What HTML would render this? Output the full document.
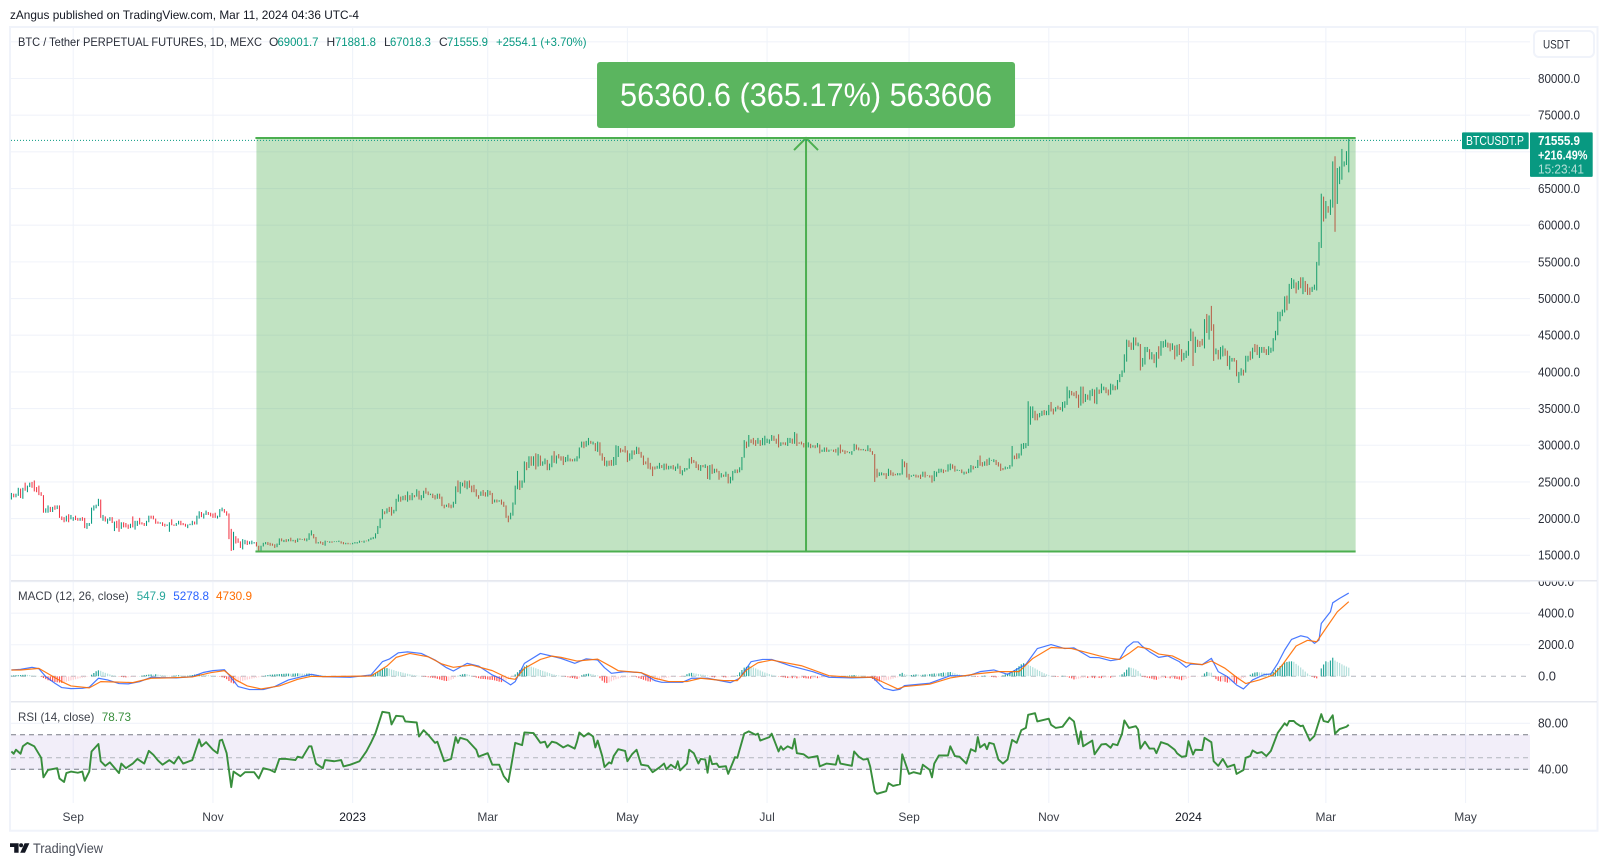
<!DOCTYPE html>
<html lang="en">
<head>
<meta charset="utf-8">
<title>BTCUSDT.P chart</title>
<style>
html,body{margin:0;padding:0;background:#fff;width:1608px;height:866px;overflow:hidden}
svg{display:block;font-family:"Liberation Sans",sans-serif}
</style>
</head>
<body>
<svg id="chart" xmlns="http://www.w3.org/2000/svg" width="1608" height="866" viewBox="0 0 1608 866">
  <defs>
    <clipPath id="macd-axis-clip"><rect x="1530" y="581.6" width="66" height="120"/></clipPath>
  </defs>
  <text x="10" y="19" font-size="12" fill="#131722" textLength="349" lengthAdjust="spacingAndGlyphs">zAngus published on TradingView.com, Mar 11, 2024 04:36 UTC-4</text>
  <rect x="10" y="27" width="1587.5" height="803.7" fill="#fff" stroke="#f0f3fa" stroke-width="2"/>
  <g id="grid-layer"></g>
  <g id="bars-layer"></g>
  <g id="tool-layer"></g>
  <g id="macd-layer"></g>
  <g id="rsi-layer"></g>
  <g id="axis-layer"></g>
  <line x1="11" x2="1597" y1="580.7" y2="580.7" stroke="#e6e8ef" stroke-width="1.5"/>
  <line x1="11" x2="1597" y1="701.7" y2="701.7" stroke="#e6e8ef" stroke-width="1.5"/>

  <g font-size="12" fill="#2a2e39">
    <text x="18" y="46" textLength="244" lengthAdjust="spacingAndGlyphs">BTC / Tether PERPETUAL FUTURES, 1D, MEXC</text>
    <text x="269" y="46">O</text>
    <text x="277.5" y="46" fill="#089981" textLength="41" lengthAdjust="spacingAndGlyphs">69001.7</text>
    <text x="326.5" y="46">H</text>
    <text x="335" y="46" fill="#089981" textLength="41" lengthAdjust="spacingAndGlyphs">71881.8</text>
    <text x="384" y="46">L</text>
    <text x="390" y="46" fill="#089981" textLength="41" lengthAdjust="spacingAndGlyphs">67018.3</text>
    <text x="439" y="46">C</text>
    <text x="447" y="46" fill="#089981" textLength="41" lengthAdjust="spacingAndGlyphs">71555.9</text>
    <text x="496" y="46" fill="#089981" textLength="90.5" lengthAdjust="spacingAndGlyphs">+2554.1 (+3.70%)</text>
  </g>
  <g font-size="12">
    <text x="18" y="600" fill="#3c4049" textLength="110.7" lengthAdjust="spacingAndGlyphs">MACD (12, 26, close)</text>
    <text x="136.7" y="600" fill="#26a69a" textLength="29" lengthAdjust="spacingAndGlyphs">547.9</text>
    <text x="173.3" y="600" fill="#2962ff" textLength="35.7" lengthAdjust="spacingAndGlyphs">5278.8</text>
    <text x="216" y="600" fill="#ff6d00" textLength="36" lengthAdjust="spacingAndGlyphs">4730.9</text>
  </g>
  <g font-size="12">
    <text x="18" y="721" fill="#3c4049" textLength="76.3" lengthAdjust="spacingAndGlyphs">RSI (14, close)</text>
    <text x="101.7" y="721" fill="#388e3c" textLength="29.3" lengthAdjust="spacingAndGlyphs">78.73</text>
  </g>

  <g>
    <rect x="1534" y="31" width="60" height="26" rx="5" fill="#fff" stroke="#f0f3fa" stroke-width="2"/>
    <text x="1543" y="48.5" font-size="12" fill="#2a2e39" textLength="27" lengthAdjust="spacingAndGlyphs">USDT</text>
  </g>

  <g>
    <path d="M10 843.3H18.6V852.7H14.2V847H10Z M24.6 843.3H29.4L25 852.7H20.2Z" fill="#131722"/>
    <circle cx="21.1" cy="845.2" r="2" fill="#131722"/>
    <text x="33" y="853" font-size="14" fill="#4a4e59" textLength="70" lengthAdjust="spacingAndGlyphs">TradingView</text>
  </g>
</svg>

<script>
// Daily bars in thousands of USD, first bar 2022-08-05; rows are calendar months.
const firstOpen = 22.9;
const closes = [
23.3,23.0,23.2,23.8,23.2,23.95,23.9,24.4,24.4,24.3,24.1,23.85,23.35,23.2,20.85,21.15,21.5,21.4,21.5,21.37,21.55,20.25,20.03,19.55,20.29,19.8,20.05,
20.13,20.0,19.95,20.0,19.8,18.79,19.29,19.32,21.36,21.65,21.83,22.4,20.17,20.22,19.7,19.8,20.11,19.42,19.54,18.87,18.49,19.4,19.3,18.92,18.8,19.22,19.08,19.41,19.59,19.42,
19.31,19.05,19.62,20.34,20.16,19.96,19.53,19.42,19.44,19.13,19.06,19.15,19.38,19.18,19.07,19.26,19.55,19.33,19.12,19.04,19.16,19.2,19.57,19.33,20.09,20.77,20.29,20.6,20.82,20.63,20.49,
20.48,20.15,20.2,21.15,21.3,20.92,20.6,18.54,15.88,17.59,17.07,16.8,16.33,16.62,16.9,16.66,16.68,16.7,16.7,16.28,15.78,16.22,16.6,16.6,16.52,16.46,16.43,16.22,16.44,17.17,
16.97,17.09,16.89,17.11,16.97,17.09,16.84,17.22,17.13,17.13,17.09,17.21,17.78,17.81,17.36,16.63,16.78,16.74,16.44,16.9,16.82,16.83,16.78,16.84,16.84,16.92,16.7,16.55,16.63,16.6,16.54,
16.62,16.67,16.67,16.85,16.83,16.95,16.94,17.12,17.18,17.44,17.94,18.85,19.93,20.95,20.87,21.18,21.13,20.67,21.07,22.67,22.78,22.7,22.92,22.63,23.05,23.01,23.07,23.03,23.74,22.83,23.12,
23.73,23.43,23.33,23.33,22.93,22.76,23.24,22.96,21.8,21.63,21.86,21.78,21.77,22.2,24.32,23.74,24.57,24.63,24.3,24.83,24.45,24.19,23.95,23.19,23.16,23.56,23.49,23.14,
23.63,23.47,22.35,22.43,22.41,22.41,22.2,21.7,20.36,20.19,20.63,22.16,24.2,24.77,24.37,25.05,27.42,26.96,28.04,27.77,28.18,27.31,28.33,27.49,27.49,28.0,27.14,27.27,28.35,28.03,28.47,
28.45,28.2,27.79,28.17,28.17,28.04,27.91,27.95,28.33,29.65,30.23,29.88,30.39,30.49,30.32,30.32,29.45,30.39,28.82,28.24,27.26,27.82,27.6,27.52,28.3,28.42,29.47,29.34,29.25,29.23,
28.07,28.67,29.03,28.85,29.53,28.9,28.45,27.69,27.63,27.62,27.0,26.8,26.78,26.93,27.17,27.04,27.4,26.83,26.89,27.1,26.75,26.85,27.22,26.33,26.47,26.72,26.87,28.08,27.75,27.7,27.22,
26.82,27.25,27.07,27.12,25.75,27.24,26.34,26.5,26.48,25.85,25.94,25.9,25.9,25.13,25.58,26.33,26.51,26.34,26.84,28.31,30.0,29.89,30.69,30.55,30.47,30.27,30.69,30.08,30.45,30.47,
30.59,30.62,31.16,30.77,30.51,29.9,30.35,30.29,30.17,30.41,30.62,30.38,31.47,30.31,30.29,30.25,30.14,29.86,29.91,29.8,29.9,29.79,30.08,29.18,29.23,29.35,29.21,29.31,29.35,29.28,29.23,
29.7,29.18,29.17,29.09,29.04,29.04,29.18,29.77,29.56,29.43,29.4,29.42,29.28,29.41,29.17,28.72,26.62,26.05,26.1,26.19,26.12,26.04,26.43,26.16,26.05,26.0,26.09,26.1,27.72,27.3,25.93,
25.8,25.87,25.97,25.81,25.78,25.75,26.24,25.9,25.89,25.83,25.16,25.84,26.22,26.52,26.6,26.56,26.53,26.76,27.21,27.13,26.57,26.58,26.58,26.25,26.3,26.21,26.35,27.02,26.9,26.96,
27.98,27.5,27.43,27.78,27.41,27.93,27.95,27.97,27.59,27.39,26.87,26.75,26.86,26.86,27.16,28.5,28.4,28.33,28.72,29.68,29.92,29.99,33.08,33.9,34.5,34.15,33.91,34.09,34.53,34.48,34.65,
35.42,34.94,34.73,35.08,35.05,35.04,35.42,35.62,36.69,37.3,37.13,37.06,36.49,35.55,37.88,36.16,36.6,36.57,37.39,37.48,35.8,37.42,37.29,37.72,37.79,37.45,37.24,37.82,37.85,37.71,
38.68,39.45,39.97,41.98,44.08,43.77,43.29,44.17,43.72,43.79,41.24,41.45,42.89,43.02,41.94,42.26,41.36,42.65,42.27,43.65,43.86,43.99,43.72,43.02,43.58,42.52,43.44,42.58,42.07,42.14,42.28,
44.18,44.95,42.85,44.18,44.16,43.97,43.93,46.95,46.12,46.65,46.34,42.78,42.84,41.73,42.51,43.14,42.74,41.26,41.62,41.67,41.55,39.51,39.89,40.08,39.94,41.82,42.12,42.03,43.3,42.95,42.58,
43.08,43.2,43.0,42.58,42.7,43.09,44.35,45.29,47.13,47.75,48.29,49.95,49.7,51.82,51.93,52.12,51.65,52.12,51.77,52.26,51.85,51.3,50.75,51.57,51.73,54.5,57.05,62.5,61.2,
62.4,62.0,63.1,68.3,63.8,66.1,66.9,68.3,68.5,69.0,71.5559];
const highs = [
23.5,23.4,23.4,24.2,24.1,24.2,24.9,24.5,24.9,25.0,25.2,24.3,24.5,23.6,23.2,21.4,21.8,21.6,21.6,21.8,21.8,21.8,20.3,20.2,20.4,20.6,20.5,
20.2,20.4,20.1,20.1,20.2,20.1,19.4,19.4,21.5,21.8,21.9,22.7,22.6,20.5,20.3,20.0,20.2,20.2,19.6,19.7,19.9,19.5,19.5,19.4,19.2,19.3,20.3,19.7,19.7,20.1,
19.5,19.4,19.7,20.4,20.4,20.4,20.0,19.6,19.5,19.5,19.3,19.2,19.5,19.9,19.2,19.4,19.7,19.7,19.4,19.3,19.2,19.3,19.7,19.6,20.4,21.0,20.9,20.7,21.1,20.9,20.8,
20.7,20.8,20.4,21.3,21.5,21.3,21.0,20.7,18.6,18.2,17.6,17.3,16.9,17.2,17.1,17.0,16.9,17.0,16.8,16.8,16.3,16.3,16.7,16.8,16.8,16.7,16.6,16.5,16.6,17.3,
17.3,17.1,17.2,17.2,17.4,17.1,17.1,17.3,17.3,17.2,17.3,17.3,18.0,18.4,17.9,17.5,16.8,16.9,16.8,17.0,16.9,16.9,16.9,16.9,16.9,17.0,16.9,16.8,16.7,16.7,16.6,
16.7,16.8,16.8,17.0,16.9,17.0,17.0,17.2,17.4,17.5,18.0,19.0,20.0,21.3,21.0,21.4,21.6,21.6,21.2,22.7,23.3,23.0,23.1,23.2,23.7,23.2,23.5,23.2,24.0,23.8,23.2,
23.8,24.2,23.7,23.4,23.4,23.2,23.4,23.4,23.0,21.9,21.9,22.1,21.9,22.3,24.4,25.2,25.0,24.9,25.2,25.1,25.2,24.5,24.6,24.0,23.2,23.7,23.9,23.6,
23.9,23.8,23.5,22.6,22.6,22.5,22.6,22.3,21.8,20.4,20.8,22.2,24.5,26.5,25.2,25.2,27.8,27.7,28.5,28.5,28.5,28.9,28.8,28.6,27.8,28.2,28.0,27.5,28.6,29.2,28.6,
28.8,28.5,28.5,28.4,28.7,28.2,28.1,28.2,28.5,29.7,30.5,30.5,30.6,31.0,30.6,30.5,30.3,30.5,30.4,28.9,28.4,27.9,27.9,28.0,28.4,30.0,29.9,29.6,29.4,29.9,
29.3,28.9,29.3,29.3,29.8,29.7,29.1,28.6,27.8,28.3,27.6,27.1,27.1,27.2,27.6,27.3,27.5,27.5,27.2,27.2,27.3,27.1,27.5,27.2,26.6,26.9,26.9,28.2,28.4,28.0,27.8,
27.4,27.3,27.3,27.4,27.2,27.3,27.4,26.8,26.8,26.5,26.2,26.0,26.4,26.1,25.7,26.5,26.7,26.7,27.0,28.4,30.7,30.5,31.4,30.8,31.0,30.7,31.0,30.7,31.0,31.3,
30.9,30.8,31.4,31.3,30.9,31.5,30.4,30.4,30.4,31.0,31.0,30.9,31.8,31.6,30.4,30.5,30.3,30.3,30.4,30.2,30.0,30.0,30.3,30.1,29.4,29.7,29.7,29.4,29.4,29.4,29.5,
29.7,30.1,29.4,29.3,29.2,29.1,29.2,30.2,30.1,29.7,29.5,29.5,29.4,30.0,29.6,29.2,28.8,26.8,26.3,26.3,26.2,26.2,26.8,26.6,26.3,26.1,26.2,26.2,28.1,27.8,27.6,
26.1,25.9,26.0,26.0,25.9,26.0,26.4,26.4,25.9,25.9,25.9,26.5,26.4,26.8,26.8,26.7,26.6,27.4,27.5,27.4,27.2,26.7,26.6,26.7,26.4,26.4,26.8,27.3,27.2,27.1,
28.0,28.6,27.7,27.8,28.1,28.3,28.0,28.1,28.0,27.7,27.5,26.9,27.1,27.0,27.3,29.9,28.6,28.9,28.9,30.2,30.3,30.3,36.0,35.3,35.3,34.7,34.3,34.4,34.7,34.8,34.7,
35.5,35.9,35.0,35.2,35.4,35.2,35.9,36.0,38.0,37.5,37.4,37.2,37.4,36.9,38.0,38.0,37.0,36.9,37.5,37.7,37.6,37.9,37.6,38.4,38.0,37.9,37.6,38.4,38.3,38.1,
38.9,39.7,40.2,42.4,44.4,44.3,44.0,44.7,44.7,44.0,43.8,41.9,43.4,43.4,43.1,42.7,42.4,42.7,43.5,44.2,44.2,44.4,44.0,43.9,43.9,43.6,43.7,43.8,43.1,42.6,42.9,
44.2,45.9,45.5,44.8,44.4,44.2,44.5,47.2,47.9,47.7,49.0,46.5,43.2,43.0,43.4,43.6,43.2,42.9,42.2,41.9,41.9,41.6,40.0,40.5,40.3,42.2,42.2,42.8,43.3,43.8,43.7,
43.4,43.4,43.4,43.1,43.5,43.3,44.6,45.6,48.2,48.2,48.5,50.3,50.4,52.0,52.8,52.6,52.2,52.4,52.9,52.9,52.4,52.0,51.5,51.6,51.9,55.0,57.7,64.3,63.9,
63.3,62.6,63.5,68.7,69.4,67.8,68.0,70.4,68.7,70.1,71.8818];
const lows = [
22.6,22.9,22.9,23.1,22.8,22.7,23.8,23.6,24.3,24.2,23.7,23.6,23.2,23.1,20.8,20.8,20.8,20.9,20.9,21.2,21.3,20.1,19.8,19.5,19.6,19.5,19.9,
19.7,19.8,19.7,19.7,19.7,18.7,18.6,19.0,19.3,21.1,21.4,21.7,20.1,19.7,19.6,19.3,19.7,19.4,18.3,18.7,18.2,18.6,18.8,18.8,18.6,18.7,18.8,18.5,19.0,19.2,
19.2,19.0,19.0,19.5,20.0,19.9,19.3,19.3,19.3,19.0,18.9,19.0,18.2,19.1,19.0,19.0,19.2,19.1,19.1,18.9,18.7,19.1,19.1,19.2,19.2,20.0,20.2,20.0,20.5,20.5,20.3,
20.1,20.1,20.0,20.2,21.0,20.8,20.4,17.2,15.6,15.7,16.6,16.7,16.0,15.8,16.5,16.4,16.5,16.5,16.6,16.2,15.5212,15.6,16.2,16.5,16.4,16.3,16.3,16.0,16.1,16.4,
16.9,16.8,16.8,16.9,16.9,16.9,16.7,16.8,17.1,17.1,17.0,16.9,17.1,17.7,17.3,16.6,16.6,16.6,16.4,16.3,16.8,16.7,16.7,16.8,16.8,16.8,16.6,16.5,16.5,16.5,16.5,
16.5,16.6,16.6,16.7,16.8,16.7,16.9,16.9,17.1,17.2,17.3,17.9,18.7,19.9,20.6,20.7,20.9,20.4,20.7,21.0,22.3,22.3,22.5,22.5,22.3,22.5,22.5,22.9,23.0,22.6,22.5,
22.8,23.4,23.2,23.2,22.8,22.6,22.7,22.7,21.7,21.4,21.6,21.5,21.4,21.5,22.0,23.6,23.4,24.4,24.2,24.0,24.2,23.6,23.6,23.0,22.7,23.1,23.1,23.0,
23.0,23.2,22.0,22.2,22.2,22.3,21.9,21.6,20.1,19.5,19.9,20.4,21.9,24.0,23.9,24.2,24.9,26.6,26.9,27.2,27.2,26.7,27.1,27.2,27.2,27.4,26.6,26.6,27.0,27.6,27.5,
28.2,27.9,27.3,27.7,27.8,27.8,27.8,27.8,27.8,28.2,29.7,29.6,29.8,30.0,30.2,30.1,29.2,29.1,28.6,27.9,27.2,27.1,27.2,27.2,27.2,27.3,28.4,29.0,29.1,29.0,
27.7,27.9,28.1,28.7,28.8,28.8,28.3,27.3,27.4,26.8,26.7,25.8,26.7,26.8,26.8,26.9,26.6,26.7,26.7,26.8,26.7,26.5,26.8,26.1,25.9,26.4,26.6,26.8,27.5,27.6,26.9,
26.6,26.5,27.0,26.9,25.4,25.3,26.1,26.2,26.3,25.3,25.6,25.7,25.7,24.8,24.8,25.2,26.2,26.2,26.3,26.6,28.3,29.6,29.8,30.3,30.1,29.9,30.2,29.9,30.0,30.0,
30.3,30.2,30.6,30.6,30.2,29.7,29.9,30.1,30.0,29.9,30.3,30.2,30.2,29.9,30.2,30.1,29.7,29.6,29.7,29.6,29.7,29.6,29.7,28.9,29.1,29.1,29.1,29.1,29.3,29.1,29.0,
28.6,28.9,29.1,28.8,29.0,28.9,28.7,29.2,29.4,29.3,29.3,29.3,29.2,29.2,29.1,28.7,25.0,25.6,25.8,25.9,25.9,25.4,25.8,25.9,25.8,25.9,25.9,25.9,26.0,27.0,25.6,
25.3,25.7,25.8,25.6,25.6,25.4,25.7,25.6,25.8,25.6,24.9,25.1,25.7,26.2,26.3,26.2,26.4,26.4,26.6,26.8,26.4,26.5,26.5,26.2,26.0,26.1,26.2,26.3,26.7,26.9,
26.9,27.2,27.1,27.2,27.2,27.3,27.9,27.7,27.3,27.1,26.5,26.6,26.7,26.8,26.8,27.1,28.1,28.1,28.2,28.6,29.5,29.6,29.9,32.8,33.7,33.4,33.4,33.8,34.0,34.1,34.1,
34.1,34.6,34.2,34.6,34.9,34.8,34.6,35.1,35.5,36.4,36.8,36.7,36.4,35.1,35.4,35.7,35.9,36.2,36.1,36.7,35.7,35.6,37.0,37.1,37.5,37.1,36.8,36.9,37.5,37.5,
37.6,38.6,39.3,39.9,41.4,43.4,43.0,43.0,43.6,43.5,40.2,40.7,41.0,42.7,41.7,41.7,41.2,40.6,41.8,42.2,43.3,43.4,43.3,42.8,43.0,41.7,42.1,42.3,41.4,41.6,41.9,
42.2,44.2,40.8,42.6,43.4,43.4,43.6,43.2,45.3,44.4,45.6,41.5,42.4,41.7,41.7,42.1,42.2,40.8,40.3,41.4,41.4,39.4,38.5,39.5,39.5,39.9,41.4,41.6,41.8,42.7,42.3,
41.9,42.6,42.6,42.3,42.3,42.6,42.8,44.3,45.0,46.9,47.6,48.1,48.4,49.3,51.3,51.4,50.7,51.2,51.4,50.6,50.9,50.5,50.5,50.9,51.2,51.1,54.5,56.9,60.5,
60.9,61.7,61.4,62.4,59.1,62.9,65.6,66.2,68.0,68.2,67.2];

// MACD pane: line vertices (bar index + value).
const macdDays = [0,4,9,12,15,19,22,26,31,34,38,42,47,51,56,61,65,72,79,84,88,93,95,99,104,110,115,121,131,136,148,157,162,165,169,173,179,185,190,193,199,204,210,214,218,220,224,231,236,240,246,251,256,259,262,268,275,281,284,293,297,304,314,318,323,328,332,340,350,357,367,376,381,385,388,390,401,410,418,423,429,435,443,448,454,460,464,471,475,480,484,487,490,492,494,497,501,505,510,513,515,520,524,527,531,535,538,542,547,550,553,556,559,563,566,569,571,572,576,577,580,584];
const macdValues = [400,440,570,480,-20,-440,-715,-780,-760,-690,-125,-230,-460,-480,-340,-60,-85,-105,-20,250,360,420,85,-650,-840,-840,-650,-230,125,-20,-60,85,925,1090,1490,1550,1450,1030,545,335,820,650,85,-170,-545,-340,820,1450,1280,1130,820,1110,1030,545,190,295,230,-275,-380,-380,-125,-125,-400,-125,925,1070,1070,670,295,-60,-105,-60,-760,-900,-820,-590,-440,40,40,295,400,125,755,1760,2010,1760,1805,1200,1180,990,1090,1830,2180,2180,1880,1560,1200,1290,930,570,780,740,1140,295,-20,-550,-800,-230,105,150,820,1660,2340,2570,2470,2090,2300,3350,4090,4660,4940,5278.8];
const signalDays = [0,4,12,17,22,26,34,39,45,53,61,68,79,87,93,98,103,109,117,125,131,136,157,164,168,174,182,188,193,201,210,217,220,224,231,236,240,247,256,262,265,275,281,287,295,301,311,317,321,326,332,345,357,367,376,387,390,401,410,421,431,440,446,454,463,475,480,484,488,492,497,501,507,513,520,524,530,535,539,545,551,555,561,566,570,574,579,584];
const signalValues = [400,400,500,85,-340,-610,-735,-340,-360,-400,-125,-105,-40,230,360,-230,-610,-800,-610,-190,0,-20,20,650,1200,1450,1240,780,570,715,360,-125,-190,500,1070,1280,1200,965,1090,610,355,230,-125,-335,-335,-125,-275,-275,400,860,1030,670,40,-60,-60,-800,-650,-500,-105,145,295,295,1130,1825,1760,1300,1140,1070,1450,1880,1730,1410,1290,865,740,970,505,-60,-460,-230,85,715,1920,2280,2190,3040,4090,4730.9];
const histValues = [
40,60,70,70,80,90,100,90,80,60,50,30,10,-40,-110,-180,-250,-300,-330,-360,
-380,-400,-420,-390,-340,-300,-260,-220,-190,-150,-120,-90,-70,-40,-10,100,210,320,380,350,
280,220,170,120,80,50,20,-20,-40,-60,-70,-60,-50,-40,-30,-20,10,40,70,90,
110,120,100,130,110,90,70,60,40,30,20,40,50,70,60,40,30,40,60,80,
110,130,140,130,110,90,70,50,30,10,-10,-30,-60,-100,-180,-300,-400,-450,-420,-380,
-340,-290,-250,-210,-180,-150,-120,-90,-60,-30,20,50,80,100,110,120,130,140,150,160,
170,170,160,170,180,190,180,170,160,170,180,150,130,110,90,70,50,30,20,10,
0,0,-10,0,0,10,0,-10,-10,0,0,10,20,30,50,60,70,90,150,220,
300,400,480,520,520,480,430,390,340,300,270,230,190,160,130,100,70,50,30,10,
-20,-40,-60,-80,-100,-120,-160,-200,-240,-280,-300,-280,-220,-160,-60,30,90,130,150,130,
90,40,-30,-80,-120,-160,-170,-180,-200,-220,-230,-260,-300,-340,-370,-330,-260,-180,-100,-40,
120,260,400,520,620,700,660,610,560,510,460,400,350,300,250,200,150,110,80,50,
30,10,-30,-60,-90,-110,-140,-170,-120,60,120,150,170,150,120,80,50,-120,-280,-400,
-430,-390,-320,-250,-190,-150,-110,-90,-70,-60,-50,-40,-30,-60,-120,-170,-220,-270,-320,-340,
-320,-280,-240,-200,-160,-130,-100,-70,-40,-30,-20,-20,-30,-30,10,130,190,220,200,170,
140,120,100,70,50,-20,-50,-70,-60,-50,-40,-60,-70,-60,-50,-30,-10,60,250,400,
550,600,660,620,560,500,430,370,300,240,190,140,100,60,30,-20,-40,-60,-90,-110,
-110,-120,-110,-130,-120,-100,-110,-130,-140,-150,-130,-110,-120,-100,-70,-60,-40,-30,-20,-20,
-20,-10,-10,0,10,30,50,60,80,70,60,50,40,20,-30,-90,-170,-270,-320,-330,
-310,-280,-250,-220,-190,-150,-100,-60,150,220,140,100,70,80,100,120,110,90,100,120,
110,140,160,180,170,180,210,240,230,260,270,230,190,150,110,80,50,40,30,20,
10,-20,-40,-30,20,40,30,-10,-40,-60,-70,-40,-20,60,120,180,220,300,400,520,
640,760,830,790,730,660,580,500,420,340,260,190,130,70,20,-10,-30,-40,-10,30,
20,-30,-90,-130,-200,-180,-150,-120,-100,-80,-100,-70,-90,-120,-80,-100,-120,-90,-70,-60,
-90,-70,-40,-10,40,130,250,420,560,540,500,430,340,180,-30,-60,-90,-120,-150,-200,
-220,-180,-120,-90,-110,-100,-130,-120,-150,-170,-200,-250,-220,-170,-100,-40,-30,-20,-20,-10,
-10,180,280,240,230,-30,-180,-290,-330,-310,-350,-400,-380,-340,-390,-470,-250,-170,-110,-60,
-20,100,180,240,260,250,240,220,190,160,190,280,420,530,640,760,870,910,940,950,
920,790,680,560,430,300,180,70,-30,-90,-130,-20,500,750,950,900,1000,1180,1000,920,
850,760,680,620,547.9];

// RSI pane: line vertices (bar index + value).
const rsiDays = [0,1,2,4,5,7,10,13,14,16,20,21,23,24,26,29,31,32,34,35,38,39,41,43,47,48,50,53,55,58,60,62,64,66,69,71,73,75,79,80,82,83,85,88,90,91,92,94,96,97,100,102,106,108,110,113,115,117,120,124,125,127,130,131,133,136,137,141,144,145,148,152,155,157,159,162,165,166,168,171,172,177,178,180,182,185,186,189,192,194,195,196,199,203,204,208,210,213,215,217,218,220,223,224,228,231,233,234,236,238,241,243,246,247,248,250,252,254,255,256,258,259,261,262,263,265,268,269,271,273,275,278,280,283,285,286,288,290,291,292,295,296,298,300,301,303,304,305,306,308,309,312,313,316,317,320,322,325,326,327,331,332,335,336,337,339,341,342,343,346,348,352,353,356,360,361,362,367,368,370,372,374,375,377,378,382,383,385,388,389,392,394,397,398,401,402,403,405,409,410,412,414,417,419,421,422,423,425,426,427,429,431,433,435,437,439,441,443,444,447,448,453,454,456,459,462,464,466,467,468,472,473,476,478,480,481,483,485,486,488,491,492,493,495,497,499,500,502,505,508,509,511,513,514,516,517,520,521,524,525,527,529,531,534,535,538,539,541,542,544,546,548,550,553,556,557,558,560,561,563,564,567,569,572,573,575,577,578,580,583,584];
const rsiValues = [55.5,53.5,57,53.5,60,63,60,50,33,39.5,41,32,29,36.7,38,37,38,30,38,55.5,62,47,43,46,36.7,45,41,45,49,45,56,52.6,47.7,44,48,45,51,45,48,54,66,60,63.6,57,54,65,65.7,54,24.5,38,34,37.5,37.5,32,41,39.5,37.5,49,49,48,51,50,60,60,45,41,48,47,48,42.5,44,47,55.5,63,71.5,90,89,79,86.5,86,81.6,80.7,68.5,74,70,63,64,47,49,68,63,67.4,65.6,57,51,54,44,44,34,29,40,63,61,72,71.5,63,64,59,64,63,59,61,58,64,72,68.5,71.4,68.5,59,65,51.5,42,46,45,51.5,57.5,56,47,53,57,44,43,37.5,41.6,45,40,44,41,47,39,45,57,54,45,49,48.5,37,51.5,44.5,45,42,42.7,36,50.6,50,71,73,70,71,65,68,71,55.5,60,57,60,58,66.5,54,53,50,51.5,42.5,45,44,52,45,43,55.5,51,48.5,49,42.5,20.7,18.7,21,28,25.5,27,53,36,37.5,36,44,39.5,33,45,52,52,60,51.5,51,45,57.5,55.5,68,59,62,57.5,63,62,48.5,45,48.5,65.6,63,74,76,87.4,88.8,81.6,84,78.7,76,77,85,81.6,62,73,60,65,53,61.6,62,58.7,62,61,71,82.5,76,77.5,74.6,58,64,58,58,54,63.6,61.6,57,54,50.9,51.5,64.5,52.8,57,56.7,67.4,63.6,47,43,49,42,44,36,39.4,50,51.5,56.4,54,55,51.5,56,71.7,80,78,82,82,80,77.5,78,65,69,88,82,81,87,71,75,77,78.73];

// Axis ticks.
const priceGridTicks = [15000,20000,25000,30000,35000,40000,45000,50000,55000,60000,65000,70000,75000,80000,85000];
const priceLabelTicks = [15000,20000,25000,30000,35000,40000,45000,50000,55000,60000,65000,75000,80000];
const macdTicks = [0,2000,4000,6000];
const rsiTicks = [40,80];
const rsiBands = [70,50,40];
const timeDays = [27,88,149,208,269,330,392,453,514,574,635];
const timeLabels = ['Sep','Nov','2023','Mar','May','Jul','Sep','Nov','2024','Mar','May'];
const timeStrong = ['2023','2024'];

// Measurement tool and last-price readout.
const toolStartDay = 107;
const toolEndDay = 587;
const toolTopPrice = 71881.8;
const toolBottomPrice = 15521.2;
const toolLabel = '56360.6 (365.17%) 563606';
const lastPrice = 71555.9;
const tickerLabel = 'BTCUSDT.P';
const lastChangeLabel = '+216.49%';
const countdownLabel = '15:23:41';

const NS = 'http://www.w3.org/2000/svg';
const plotLeft = 11, plotRight = 1530, plotBottom = 803;
function xAt(day){ return 11.4 + 2.29 * day; }
function yPrice(p){ return 78.5 + (80000 - p) * 0.007335; }
function yMacd(v){ return 676.3 - v * 0.01577; }
function yRsi(r){ return 723.3 + (80 - r) * 1.15; }
function make(tag, parent, attrs){
  const el = document.createElementNS(NS, tag);
  for (const k in attrs) el.setAttribute(k, attrs[k]);
  parent.appendChild(el);
  return el;
}
function linePath(days, values, yFn){
  return days.map((d, i) => (i ? 'L' : 'M') + xAt(d).toFixed(2) + ' ' + yFn(values[i]).toFixed(2)).join('');
}
const grid = document.getElementById('grid-layer');
const barsLayer = document.getElementById('bars-layer');
const tool = document.getElementById('tool-layer');
const macdLayer = document.getElementById('macd-layer');
const rsiLayer = document.getElementById('rsi-layer');
const axis = document.getElementById('axis-layer');

// Grid
timeDays.forEach(d => {
  const g = make('line', grid, {x1:xAt(d), x2:xAt(d), y1:28, y2:plotBottom, stroke:'#f0f3fa', 'stroke-width':1.1});
  
  
});
priceGridTicks.forEach(p => {
  const g = make('line', grid, {x1:plotLeft, x2:plotRight, y1:yPrice(p), y2:yPrice(p), stroke:'#f0f3fa', 'stroke-width':1.1});
  
  
});
macdTicks.filter(v => v > 0).forEach(v => {
  const g = make('line', grid, {x1:plotLeft, x2:plotRight, y1:yMacd(v), y2:yMacd(v), stroke:'#f0f3fa', 'stroke-width':1.1});
  
  
});
rsiTicks.forEach(v => {
  const g = make('line', grid, {x1:plotLeft, x2:plotRight, y1:yRsi(v), y2:yRsi(v), stroke:'#f0f3fa', 'stroke-width':1.1});
  
  
});

// Price bars
closes.forEach((c, i) => {
  const prev = i ? closes[i - 1] : firstOpen;
  const b = make('line', barsLayer, {x1:xAt(i), x2:xAt(i), y1:yPrice(highs[i] * 1000), y2:yPrice(lows[i] * 1000), stroke:c >= prev ? '#089981' : '#f23645', 'stroke-width':1.05});
  
  
});

// Measurement tool
const toolL = xAt(toolStartDay), toolR = xAt(toolEndDay), toolT = yPrice(toolTopPrice), toolB = yPrice(toolBottomPrice), toolC = (toolL + toolR) / 2;
const toolFill = make('rect', tool, {x:toolL, y:toolT, width:toolR - toolL, height:toolB - toolT, fill:'#4caf50', 'fill-opacity':0.35});


const toolTopLine = make('line', tool, {x1:toolL - 1, x2:toolR, y1:toolT, y2:toolT, stroke:'#4caf50', 'stroke-width':2});


const toolBottomLine = make('line', tool, {x1:toolL - 1, x2:toolR, y1:toolB, y2:toolB, stroke:'#4caf50', 'stroke-width':2});


const toolStem = make('line', tool, {x1:toolC, x2:toolC, y1:toolT, y2:toolB, stroke:'#4caf50', 'stroke-width':2});


const toolHead = make('path', tool, {d:'M' + (toolC - 12) + ' ' + (toolT + 12) + 'L' + toolC + ' ' + toolT + 'L' + (toolC + 12) + ' ' + (toolT + 12), fill:'none', stroke:'#4caf50', 'stroke-width':2});


const toolBox = make('rect', tool, {x:toolC - 209, y:62, width:418, height:66, rx:3, fill:'#5bb55f'});


const toolText = make('text', tool, {x:toolC, y:106, 'text-anchor':'middle', 'font-size':32, fill:'#fff', textLength:372, lengthAdjust:'spacingAndGlyphs'});


toolText.textContent = toolLabel;

// MACD pane
const zero = make('line', macdLayer, {x1:plotLeft, x2:plotRight, y1:yMacd(0), y2:yMacd(0), stroke:'#b2b5be', 'stroke-width':1, 'stroke-dasharray':'5 5'});


histValues.forEach((v, i) => {
  const prev = i ? histValues[i - 1] : 0;
  const color = v >= 0 ? (v >= prev ? '#26a69a' : '#b2dfdb') : (v < prev ? '#ff5252' : '#ffcdd2');
  const h = make('line', macdLayer, {x1:xAt(i), x2:xAt(i), y1:yMacd(0), y2:yMacd(v), stroke:color, 'stroke-width':1.2});
  
  
});
const macdLine = make('path', macdLayer, {d:linePath(macdDays, macdValues, yMacd), fill:'none', stroke:'#2962ff', 'stroke-width':1.2, 'stroke-linejoin':'round', 'stroke-opacity':0.85});


const signalLine = make('path', macdLayer, {d:linePath(signalDays, signalValues, yMacd), fill:'none', stroke:'#ff6d00', 'stroke-width':1.2, 'stroke-linejoin':'round', 'stroke-opacity':0.9});



// RSI pane
const rsiBandFill = make('rect', rsiLayer, {x:plotLeft, y:yRsi(rsiBands[0]), width:plotRight - plotLeft, height:yRsi(rsiBands[2]) - yRsi(rsiBands[0]), fill:'#7e57c2', 'fill-opacity':0.1});


rsiBands.forEach((v, i) => {
  const l = make('line', rsiLayer, {x1:plotLeft, x2:plotRight, y1:yRsi(v), y2:yRsi(v), stroke:i === 1 ? '#b2b5be' : '#787b86', 'stroke-width':1, 'stroke-dasharray':'5 4'});
  
  
});
const rsiLine = make('path', rsiLayer, {d:linePath(rsiDays, rsiValues, yRsi), fill:'none', stroke:'#388e3c', 'stroke-width':1.9, 'stroke-linejoin':'round'});



// Axes
const tickFill = '#2a2e39';
priceLabelTicks.forEach(p => {
  const s = p.toFixed(1);
  const t = make('text', axis, {x:1538, y:yPrice(p) + 4.4, 'font-size':12.5, fill:tickFill, textLength:s.length * 6, lengthAdjust:'spacingAndGlyphs'});
  
  
  t.textContent = s;
});
macdTicks.forEach(v => {
  const s = v.toFixed(1);
  const t = make('text', axis, {x:1538, y:yMacd(v) + 4.4, 'font-size':12.5, fill:tickFill, textLength:s.length * 6, lengthAdjust:'spacingAndGlyphs', 'clip-path':'url(#macd-axis-clip)'});
  
  
  t.textContent = s;
});
rsiTicks.forEach(v => {
  const s = v.toFixed(2);
  const t = make('text', axis, {x:1538, y:yRsi(v) + 4.4, 'font-size':12.5, fill:tickFill, textLength:s.length * 6, lengthAdjust:'spacingAndGlyphs'});
  
  
  t.textContent = s;
});
timeDays.forEach((d, i) => {
  const s = timeLabels[i];
  const strong = timeStrong.includes(s);
  const t = make('text', axis, {x:xAt(d), y:821, 'text-anchor':'middle', 'font-size':12, fill:strong ? '#131722' : '#3c4049'});
  
  
  t.textContent = s;
});

// Last price line and labels
const yLast = yPrice(lastPrice);
const dotted = make('line', axis, {x1:plotLeft, x2:1462, y1:yLast, y2:yLast, stroke:'#089981', 'stroke-width':1, 'stroke-dasharray':'1 2'});


const tickerBox = make('rect', axis, {x:1462, y:yLast - 8, width:66.7, height:16.7, rx:1, fill:'#089981'});


const tickerText = make('text', axis, {x:1466, y:yLast + 4.6, 'font-size':12.5, fill:'#fff', textLength:58, lengthAdjust:'spacingAndGlyphs'});


tickerText.textContent = tickerLabel;
const priceBox = make('rect', axis, {x:1530, y:yLast - 8, width:62.7, height:44.4, rx:1, fill:'#089981'});


const priceText = make('text', axis, {x:1538, y:yLast + 4.6, 'font-size':12.5, fill:'#fff', 'font-weight':'bold', textLength:42, lengthAdjust:'spacingAndGlyphs'});


priceText.textContent = lastPrice.toFixed(1);
const changeText = make('text', axis, {x:1538, y:yLast + 19, 'font-size':12.5, fill:'#fff', 'font-weight':'bold', textLength:49.5, lengthAdjust:'spacingAndGlyphs'});


changeText.textContent = lastChangeLabel;
const countdownText = make('text', axis, {x:1538, y:yLast + 33, 'font-size':12.5, fill:'#b5e0d8', textLength:46, lengthAdjust:'spacingAndGlyphs'});


countdownText.textContent = countdownLabel;
</script>
</body>
</html>
